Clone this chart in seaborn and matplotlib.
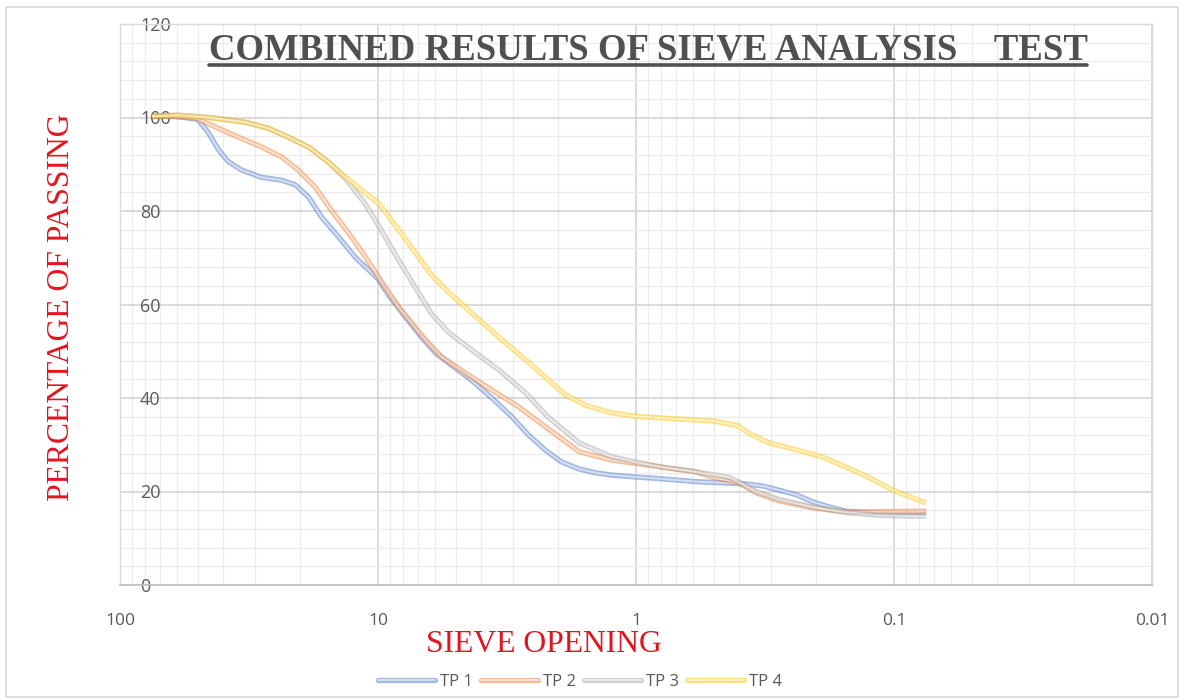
import numpy as np
import pandas as pd
import matplotlib
matplotlib.use("Agg")
import matplotlib.pyplot as plt
import matplotlib.patheffects as pe
from matplotlib.lines import Line2D
from matplotlib.patches import Rectangle
from matplotlib.ticker import LogLocator, FixedLocator, NullFormatter, MultipleLocator
import seaborn as sns

# Sieve opening (mm) and percentage passing for each test pit
tp1_size = [75, 62, 50, 45.5, 41.6, 38.1, 33.9, 28.3, 23.7, 20.9, 18.6, 16.6, 14.2, 12.2,
            10.0, 9.1, 7.82, 6.78, 5.98, 5.18, 4.34, 3.62, 3.03, 2.6, 2.24, 1.94, 1.66,
            1.43, 1.24, 1.0, 0.79, 0.585, 0.435, 0.374, 0.324, 0.279, 0.239, 0.207,
            0.178, 0.153, 0.128, 0.101, 0.075]
tp1_pass = [100.2, 100.3, 99.6, 96.8, 93.2, 90.6, 88.8, 87.2, 86.6, 85.6, 83.0, 78.8, 74.4, 70.0,
            65.5, 62.0, 57.3, 53.0, 49.6, 47.0, 43.8, 40.0, 36.0, 32.0, 28.8, 26.3, 24.8,
            24.0, 23.5, 23.1, 22.7, 22.1, 21.8, 21.6, 21.2, 20.3, 19.3, 17.8,
            16.7, 15.8, 15.5, 15.4, 15.4]

tp2_size = [75, 62, 51, 42.8, 34.8, 28.3, 23.7, 20.4, 17.5, 15.2, 13.0, 11.2, 10.0, 8.32,
            6.54, 5.67, 4.57, 3.62, 2.85, 2.2, 1.66, 1.24, 1.0, 0.79, 0.585, 0.507,
            0.398, 0.342, 0.279, 0.207, 0.153, 0.114, 0.075]
tp2_pass = [100.3, 100.2, 99.9, 98.0, 95.8, 93.7, 91.6, 88.8, 85.1, 80.2, 75.3, 70.2, 66.0, 59.5,
            52.4, 48.8, 45.3, 41.7, 38.1, 33.5, 28.5, 26.7, 26.0, 25.2, 24.2, 23.1,
            21.8, 19.7, 18.0, 16.5, 15.6, 15.7, 15.8]

tp3_size = [75, 59.5, 44.3, 32.7, 26.6, 22.3, 18.6, 15.6, 13.4, 11.2, 9.69, 8.32, 7.15, 6.20,
            5.32, 4.34, 3.40, 2.67, 2.2, 1.66, 1.24, 1.0, 0.79, 0.585, 0.435, 0.398,
            0.342, 0.279, 0.207, 0.153, 0.114, 0.075]
tp3_pass = [100.3, 100.5, 100.0, 99.0, 97.7, 95.8, 93.7, 90.5, 87.0, 81.5, 75.8, 69.5, 63.6, 58.0,
            54.0, 50.3, 46.0, 41.0, 36.0, 30.4, 27.4, 26.3, 25.2, 24.2, 23.0, 22.0,
            20.0, 18.3, 16.7, 15.5, 14.9, 14.7]

tp4_size = [75, 59.5, 44.3, 32.7, 26.6, 22.3, 18.6, 15.6, 13.4, 11.6, 10.0, 8.32, 7.15, 6.20,
            5.32, 4.34, 3.40, 2.67, 2.18, 1.87, 1.56, 1.24, 1.0, 0.79, 0.585, 0.507,
            0.409, 0.355, 0.304, 0.239, 0.190, 0.153, 0.124, 0.101, 0.075]
tp4_pass = [100.3, 100.5, 99.9, 99.0, 97.7, 95.8, 93.7, 90.5, 87.3, 84.5, 81.8, 76.0, 71.0, 66.3,
            62.6, 58.2, 53.0, 48.1, 43.8, 40.6, 38.4, 36.8, 36.1, 35.7, 35.3, 35.1,
            34.2, 32.1, 30.4, 28.9, 27.4, 25.2, 22.9, 20.3, 17.5]

series_names = ["TP 1", "TP 2", "TP 3", "TP 4"]
series_colors = ["#4472C4", "#ED7D31", "#A5A5A5", "#FFC000"]
x_ticks = [100, 10, 1, 0.1, 0.01]
x_tick_labels = ["100", "10", "1", "0.1", "0.01"]
y_ticks = [0, 20, 40, 60, 80, 100, 120]

frames = []
for name, s, p in zip(series_names, [tp1_size, tp2_size, tp3_size, tp4_size],
                      [tp1_pass, tp2_pass, tp3_pass, tp4_pass]):
    frames.append(pd.DataFrame({"size": s, "passing": p, "pit": name}))
df = pd.concat(frames, ignore_index=True)

sns.set_theme(style="white")
plt.rcParams["font.family"] = ["Open Sans", "DejaVu Sans"]

W, H = 1184, 698
fig = plt.figure(figsize=(W / 100, H / 100), dpi=100)
ax = fig.add_axes([120 / W, 1 - 585 / H, (1152 - 120) / W, (585 - 24) / H])

# double-edged line look: translucent wide stroke with a pale core
line_effects = [pe.Normal(), pe.Stroke(linewidth=1.5, foreground="white", alpha=0.55)]

sns.lineplot(data=df, x="size", y="passing", hue="pit", palette=series_colors,
             hue_order=series_names, sort=True, estimator=None, legend=False,
             linewidth=3.8, alpha=0.5, ax=ax, zorder=3)

for line in ax.lines:
    line.set_solid_joinstyle("round")
    line.set_solid_capstyle("butt")
    line.set_path_effects(line_effects)

ax.set_xscale("log")
ax.set_xlim(100, 0.01)
ax.set_ylim(0, 120)

ax.xaxis.set_major_locator(FixedLocator(x_ticks))
ax.set_xticklabels(x_tick_labels)
ax.xaxis.set_minor_locator(LogLocator(base=10, subs=np.arange(2, 10)))
ax.xaxis.set_minor_formatter(NullFormatter())
ax.set_yticks(y_ticks)
ax.yaxis.set_minor_locator(MultipleLocator(4))

ax.grid(which="major", axis="both", color="#d4d4d4", linewidth=1.2)
ax.grid(which="minor", axis="both", color="#ebebeb", linewidth=0.9)
ax.set_axisbelow(True)

for side in ["top", "right", "left"]:
    ax.spines[side].set_color("#d9d9d9")
    ax.spines[side].set_linewidth(1.0)
ax.spines["bottom"].set_color("#bfbfbf")
ax.spines["bottom"].set_linewidth(1.2)

ax.tick_params(axis="x", which="both", length=0, pad=20, labelsize=12.5, labelcolor="#595959")
ax.tick_params(axis="y", which="both", length=0, pad=-14.4, labelsize=13, labelcolor="#595959")
plt.setp(ax.get_yticklabels(), ha="left")

ax.set_xlabel("")
ax.set_ylabel("")

serif = ["Liberation Serif", "DejaVu Serif"]
fig.text(62 / W, 1 - 307 / H, "PERCENTAGE OF PASSING", rotation=90, ha="center", va="center",
         family=serif, fontsize=22.8, color="#e3141f")
fig.text(544 / W, 1 - 644 / H, "SIEVE OPENING", ha="center", va="center",
         family=serif, fontsize=22.8, color="#e3141f")
title = fig.text(648 / W, 1 - 50 / H, "COMBINED RESULTS OF SIEVE ANALYSIS    TEST",
                 ha="center", va="center", family=serif, fontweight="bold",
                 fontsize=26.5, color="#505050")

handles = [Line2D([], [], color=c, linewidth=3.8, alpha=0.5, path_effects=line_effects)
           for c in series_colors]
fig.legend(handles, series_names, loc="center", bbox_to_anchor=(580 / W, 1 - 682 / H),
           ncol=4, frameon=False, handlelength=3.4, handletextpad=0.3, columnspacing=0.5,
           prop={"family": ["Open Sans", "DejaVu Sans"], "size": 12}, labelcolor="#595959")

fig.patches.append(Rectangle((6 / W, 1 / H), (1178 - 6) / W, (691 - 1) / H,
                             transform=fig.transFigure, fill=False,
                             edgecolor="#d9d9d9", linewidth=1.2))

fig.canvas.draw()
bb = title.get_window_extent()
uy = (bb.y0 + 3) / H
fig.add_artist(Line2D([bb.x0 / W, bb.x1 / W], [uy, uy], transform=fig.transFigure,
                      color="#505050", linewidth=2.6))

fig.savefig("out.png", dpi=100, facecolor="white")
